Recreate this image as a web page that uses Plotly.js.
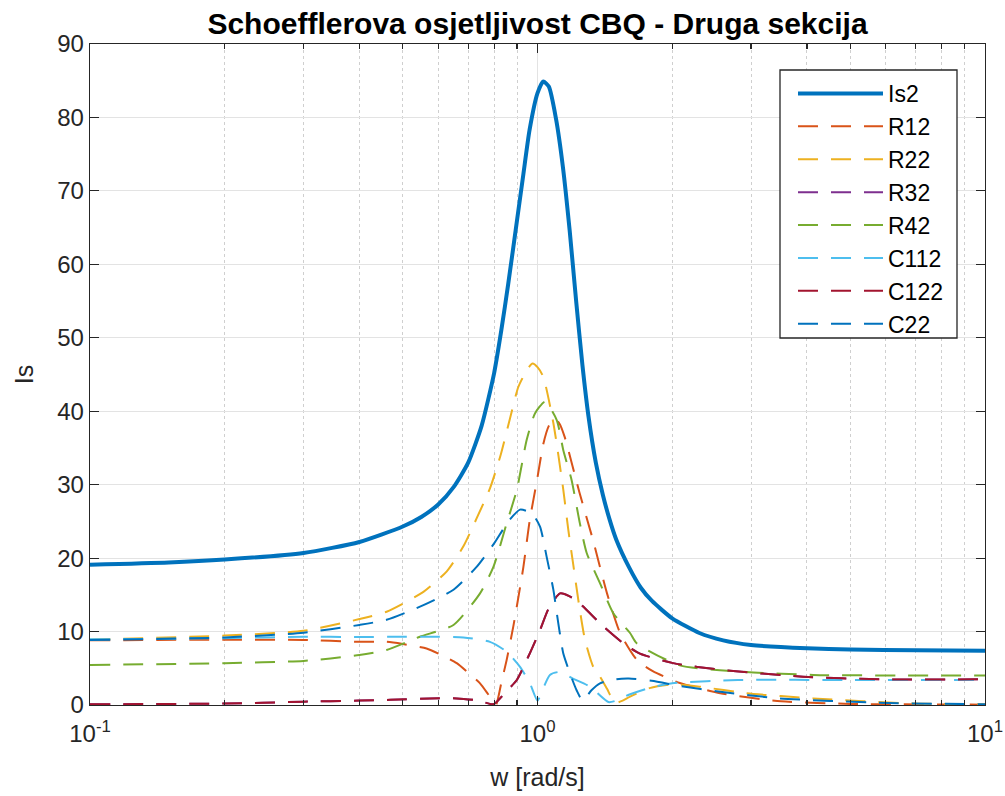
<!DOCTYPE html>
<html>
<head>
<meta charset="utf-8">
<script src="https://cdn.plot.ly/plotly-3.0.1.min.js"></script>
<style>html,body{margin:0;padding:0;background:#fff;}#chart{width:1005px;height:796px;}</style>
</head>
<body>
<div id="chart"></div>
<script>
// ---- data (w in rad/s, values of Is) ----
const seriesNames = ["Is2", "R12", "R22", "R32", "R42", "C112", "C122", "C22"];

const wIs2 = [0.1,0.15,0.2,0.3,0.4,0.5,0.55,0.6,0.65,0.7,0.75,0.8,0.83,0.86,0.9,0.93,0.96,1.0,1.03,1.06,1.1,1.14,1.18,1.22,1.26,1.3,1.35,1.4,1.45,1.5,1.6,1.7,1.8,2.0,2.3,2.6,3.0,4.0,5.0,7.0,10];
const Is2  = [19.1,19.4,19.8,20.7,22.2,24.3,25.6,27.3,29.7,33.0,38.0,45.2,51.0,57.3,66.0,72.3,78.3,83.3,84.9,84.2,79.8,73.2,64.6,55.0,46.3,39.3,33.0,28.6,25.2,22.5,18.8,16.0,14.2,11.8,9.8,8.8,8.17,7.72,7.55,7.45,7.4];

const wR12 = [0.1,0.2,0.3,0.4,0.46,0.5,0.565,0.62,0.66,0.7,0.744,0.775,0.797,0.808,0.83,0.853,0.883,0.93,0.96,1.0,1.03,1.06,1.09,1.12,1.15,1.24,1.33,1.43,1.53,1.67,1.81,2.08,2.56,3.5,5,10];
const R12  = [8.8,8.9,8.85,8.6,8.6,8.3,7.7,6.6,5.7,4.4,2.95,1.5,0.45,0.05,3.0,6.1,10.7,18.8,25.0,31.0,35.5,38.0,39.0,38.3,36.5,29.0,22.5,15.2,9.8,6.1,4.6,3.0,1.6,0.5,0.15,0.05];

const wR22 = [0.1,0.2,0.3,0.4,0.46,0.556,0.627,0.683,0.731,0.783,0.827,0.868,0.906,0.951,0.975,1.0,1.03,1.085,1.142,1.172,1.202,1.24,1.277,1.332,1.379,1.43,1.49,1.55,1.61,1.78,2.0,2.3,2.93,4.13,6.9,10];
const R22  = [8.9,9.45,10.1,11.7,12.7,15.4,18.2,21.6,25.4,29.5,34.0,39.0,43.3,45.8,46.5,46.0,44.7,38.4,29.3,23.8,19.1,13.4,8.85,5.2,3.85,2.2,0.3,0.6,1.13,2.3,2.8,2.5,1.6,0.9,0.2,0.1];

const wR32 = [0.1,0.2,0.3,0.4,0.469,0.575,0.66,0.74,0.797,0.85,0.899,0.954,1.013,1.06,1.123,1.18,1.244,1.403,1.555,1.694,2.01,2.56,3.92,5.8,10];
const R32  = [0.1,0.2,0.45,0.6,0.7,0.9,0.9,0.6,0.1,1.8,3.4,6.6,10.2,13.2,15.2,14.8,13.8,10.7,8.4,7.0,5.7,4.8,3.85,3.5,3.5];

const wR42 = [0.1,0.2,0.3,0.4,0.46,0.546,0.649,0.744,0.797,0.853,0.899,0.946,0.987,1.039,1.104,1.142,1.192,1.244,1.288,1.379,1.477,1.61,1.666,2.08,2.93,4.13,10];
const R42  = [5.45,5.7,6.0,6.8,7.5,9.3,10.9,15.2,18.8,24.7,29.3,36.1,39.7,41.3,38.8,34.7,30.6,24.7,20.7,16.6,12.5,9.8,8.4,5.4,4.5,4.1,4.0];

const wC112 = [0.1,0.2,0.3,0.4,0.484,0.575,0.683,0.783,0.853,0.914,0.962,1.0,1.03,1.066,1.12,1.2,1.31,1.44,1.5,1.6,1.8,2.0,2.8,5,10];
const C112  = [8.95,9.1,9.3,9.25,9.3,9.3,9.2,8.6,7.26,5.2,2.95,0.6,2.3,4.1,4.5,3.6,2.5,0.4,0.6,1.4,2.4,2.95,3.4,3.4,3.4];

const wC122 = [0.1,0.2,0.3,0.4,0.469,0.575,0.66,0.74,0.797,0.85,0.899,0.954,1.013,1.06,1.123,1.18,1.244,1.403,1.555,1.694,2.01,2.56,3.92,5.8,10];
const C122  = [0.1,0.2,0.45,0.6,0.7,0.9,0.9,0.6,0.1,1.8,3.4,6.6,10.2,13.2,15.2,14.8,13.8,10.7,8.4,7.0,5.7,4.8,3.85,3.5,3.5];

const wC22 = [0.1,0.2,0.3,0.4,0.46,0.556,0.649,0.731,0.8,0.861,0.914,0.971,1.013,1.048,1.085,1.113,1.142,1.182,1.223,1.262,1.32,1.379,1.5,1.6,1.8,2.08,2.56,3.48,5.8,10];
const C22  = [8.85,9.2,9.85,10.9,11.6,13.6,15.7,18.8,22.0,25.0,26.6,26.1,24.3,20.2,15.7,11.1,7.0,4.3,2.0,0.6,2.0,2.95,3.5,3.6,3.3,2.6,1.8,0.9,0.3,0.1];

const xTickVals = [0.1, 1, 10];
const xTickText = ["10<sup>-1</sup>", "10<sup>0</sup>", "10<sup>1</sup>"];
const xMinorVals = [0.2,0.3,0.4,0.5,0.6,0.7,0.8,0.9,2,3,4,5,6,7,8,9];
const yTickVals = [0,10,20,30,40,50,60,70,80,90];

// ---- styling ----
const colors = ["#0072BD","#D95319","#EDB120","#7E2F8E","#77AC30","#4DBEEE","#A2142F","#0072BD"];
const xs = [wIs2, wR12, wR22, wR32, wR42, wC112, wC122, wC22];
const ys = [Is2, R12, R22, R32, R42, C112, C122, C22];
const FONT = "Liberation Sans, Arial, Helvetica, sans-serif";

const traces = seriesNames.map((n, i) => ({
  type: "scatter",
  mode: "lines",
  name: n,
  x: xs[i],
  y: ys[i],
  line: {
    color: colors[i],
    width: i === 0 ? 4 : 2,
    dash: i === 0 ? "solid" : "20px,13px",
    shape: "spline",
    smoothing: 0.6
  }
}));

const M = {l: 90, r: 20, t: 44, b: 91};
const W = 1005, H = 796;
const pw = W - M.l - M.r, ph = H - M.t - M.b;
const px = v => (v - M.l) / pw;
const py = v => (H - M.b - v) / ph;

const layout = {
  width: W, height: H,
  margin: M,
  paper_bgcolor: "#ffffff",
  plot_bgcolor: "#ffffff",
  font: {family: FONT, color: "#262626", size: 22},
  title: {
    text: "Schoefflerova osjetljivost CBQ - Druga sekcija",
    font: {family: FONT, size: 30, color: "#000000", weight: "bold"},
    x: 0.5, xref: "paper", xanchor: "center",
    y: 1 - 23 / H, yref: "container", yanchor: "middle"
  },
  xaxis: {
    type: "log",
    range: [-1, 1],
    tickmode: "array",
    tickvals: xTickVals,
    ticktext: xTickText,
    ticks: "inside", ticklen: 9, tickwidth: 1.2, tickcolor: "#262626",
    ticklabelstandoff: 7,
    showline: true, linecolor: "#262626", linewidth: 1.3, mirror: "ticks",
    showgrid: true, gridcolor: "#e3e3e3", gridwidth: 1,
    zeroline: false,
    tickfont: {size: 24, color: "#262626"},
    minor: {
      tickmode: "array", tickvals: xMinorVals,
      ticks: "inside", ticklen: 5, tickcolor: "#262626",
      showgrid: true, gridcolor: "#cfcfcf", griddash: "dot", gridwidth: 1
    },
    title: {text: "w [rad/s]", font: {size: 25, color: "#262626"}, standoff: 22}
  },
  yaxis: {
    range: [0, 90],
    tickmode: "array",
    tickvals: yTickVals,
    ticks: "inside", ticklen: 9, tickwidth: 1.2, tickcolor: "#262626",
    showline: true, linecolor: "#262626", linewidth: 1.3, mirror: "ticks",
    showgrid: true, gridcolor: "#e3e3e3", gridwidth: 1,
    zeroline: false,
    tickfont: {size: 24, color: "#262626"},
    title: {text: "Is", font: {size: 25, color: "#262626"}, standoff: 16}
  },
  showlegend: true,
  legend: {
    x: px(793), xanchor: "left",
    y: py(72), yanchor: "top",
    bgcolor: "rgba(0,0,0,0)",
    borderwidth: 0,
    itemwidth: 85,
    font: {size: 23, color: "#000000", family: FONT},
    tracegroupgap: 0
  },
  shapes: [{
    type: "rect", xref: "paper", yref: "paper",
    x0: px(780), x1: px(957), y0: py(338), y1: py(70),
    line: {color: "#262626", width: 1.3},
    fillcolor: "#ffffff", layer: "above"
  }]
};

Plotly.newPlot("chart", traces, layout, {staticPlot: true, displayModeBar: false});
</script>
</body>
</html>
